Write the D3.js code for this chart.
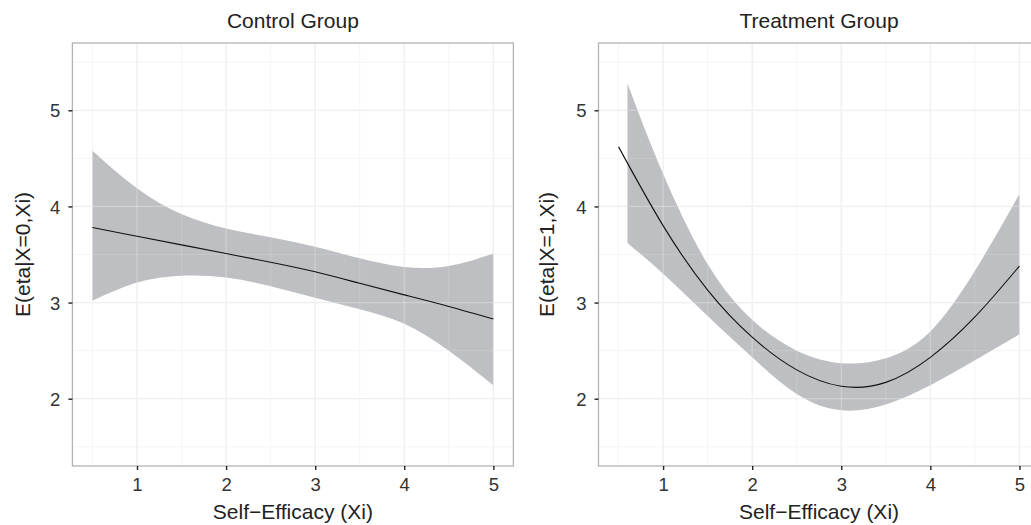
<!DOCTYPE html>
<html>
<head>
<meta charset="utf-8">
<script src="https://cdn.jsdelivr.net/npm/d3@7.9.0/dist/d3.min.js"></script>
<style>
  body { margin: 0; background: #fff; }
  svg { display: block; font-family: "Liberation Sans", Arial, sans-serif; }
</style>
</head>
<body>
<svg id="chart" width="1031" height="525"></svg>
<script>
// axis setup
const xTicks = [1, 2, 3, 4, 5];
const yTicks = [2, 3, 4, 5];
const xMinor = [0.5, 1.5, 2.5, 3.5, 4.5];
const yMinor = [1.5, 2.5, 3.5, 4.5, 5.5];

// control group (X=0)
const controlX = [0.5, 1, 1.5, 2, 2.5, 3, 3.5, 4, 4.5, 5];
const controlFit = [3.78, 3.69, 3.60, 3.51, 3.42, 3.32, 3.20, 3.08, 2.96, 2.83];
const controlLower = [3.02, 3.21, 3.28, 3.26, 3.17, 3.05, 2.93, 2.78, 2.50, 2.14];
const controlUpper = [4.58, 4.19, 3.92, 3.77, 3.68, 3.58, 3.46, 3.37, 3.38, 3.51];

// treatment group (X=1)
const treatX = [0.5, 1, 1.5, 2, 2.5, 3, 3.5, 4, 4.5, 5];
const treatFit = [4.62, 3.80, 3.13, 2.64, 2.30, 2.13, 2.17, 2.43, 2.85, 3.38];
const treatBandX = [0.6, 1, 1.5, 2, 2.5, 3, 3.5, 4, 4.5, 5];
const treatLower = [3.62, 3.30, 2.86, 2.43, 2.05, 1.88, 1.94, 2.14, 2.40, 2.67];
const treatUpper = [5.28, 4.34, 3.40, 2.82, 2.50, 2.37, 2.42, 2.70, 3.33, 4.13];

const panels = [
  { title: 'Control Group', ylab: 'E(eta|X=0,Xi)', left: 72.4, ylabX: 22,
    fitX: controlX, fit: controlFit, bandX: controlX, lower: controlLower, upper: controlUpper },
  { title: 'Treatment Group', ylab: 'E(eta|X=1,Xi)', left: 598.5, ylabX: 546,
    fitX: treatX, fit: treatFit, bandX: treatBandX, lower: treatLower, upper: treatUpper }
];

const svg = d3.select('#chart');
const plotTop = 43, plotBottom = 466, panelW = 441;
const curve = d3.curveNatural;

panels.forEach(p => {
  const x = d3.scaleLinear().domain([0.275, 5.225]).range([p.left, p.left + panelW]);
  const y = d3.scaleLinear().domain([1.3, 5.7]).range([plotBottom, plotTop]);
  const g = svg.append('g');

  /*grid*/
  function grid(layer, majorCol, minorCol, majorOp, minorOp) {
    layer.selectAll('.vmin').data(xMinor).join('line')
      .attr('x1', d => x(d)).attr('x2', d => x(d)).attr('y1', plotTop).attr('y2', plotBottom)
      .attr('stroke', minorCol).attr('stroke-opacity', minorOp).attr('stroke-width', 1);
    layer.selectAll('.hmin').data(yMinor).join('line')
      .attr('y1', d => y(d)).attr('y2', d => y(d)).attr('x1', p.left).attr('x2', p.left + panelW)
      .attr('stroke', minorCol).attr('stroke-opacity', minorOp).attr('stroke-width', 1);
    layer.selectAll('.vmaj').data(xTicks).join('line')
      .attr('x1', d => x(d)).attr('x2', d => x(d)).attr('y1', plotTop).attr('y2', plotBottom)
      .attr('stroke', majorCol).attr('stroke-opacity', majorOp).attr('stroke-width', 1.2);
    layer.selectAll('.hmaj').data(yTicks).join('line')
      .attr('y1', d => y(d)).attr('y2', d => y(d)).attr('x1', p.left).attr('x2', p.left + panelW)
      .attr('stroke', majorCol).attr('stroke-opacity', majorOp).attr('stroke-width', 1.2);
  }
  grid(g.append('g'), '#e9e9e9', '#f4f4f4', 1, 1);

  /*confidence band*/
  const band = p.bandX.map((v, i) => ({ x: v, lo: p.lower[i], hi: p.upper[i] }));
  g.append('path')
    .datum(band)
    .attr('fill', '#bebfc2')
    .attr('d', d3.area().curve(curve).x(d => x(d.x)).y0(d => y(d.lo)).y1(d => y(d.hi)));

  // grid shows faintly through the band
  grid(g.append('g'), '#ffffff', '#ffffff', 0.28, 0.15);

  /*fitted line*/
  g.append('path')
    .datum(p.fitX.map((v, i) => [v, p.fit[i]]))
    .attr('fill', 'none')
    .attr('stroke', '#111')
    .attr('stroke-width', 1.1)
    .attr('d', d3.line().curve(curve).x(d => x(d[0])).y(d => y(d[1])));

  // panel border
  g.append('rect')
    .attr('x', p.left).attr('y', plotTop).attr('width', panelW).attr('height', plotBottom - plotTop)
    .attr('fill', 'none').attr('stroke', '#b3b3b3').attr('stroke-width', 1.3);

  /*axes*/
  const xAxis = g.append('g').attr('transform', `translate(0,${plotBottom})`)
    .call(d3.axisBottom(x).tickValues(xTicks).tickSize(4).tickPadding(8).tickFormat(d3.format('d')));
  const yAxis = g.append('g').attr('transform', `translate(${p.left},0)`)
    .call(d3.axisLeft(y).tickValues(yTicks).tickSize(4).tickPadding(8).tickFormat(d3.format('d')));
  [xAxis, yAxis].forEach(a => {
    a.select('.domain').remove();
    a.selectAll('.tick line').attr('stroke', '#222').attr('stroke-width', 1.4);
    a.selectAll('.tick text').attr('fill', '#333').style('font-size', '18.5px')
      .style('font-family', '"Liberation Sans", Arial, sans-serif');
  });
  xAxis.selectAll('.tick text').attr('dy', '0.71em');
  yAxis.selectAll('.tick text').attr('dy', '0.36em');

  /*labels*/
  g.append('text')
    .attr('x', p.left + panelW / 2).attr('y', 28)
    .attr('text-anchor', 'middle').attr('fill', '#222').style('font-size', '21px')
    .text(p.title);
  g.append('text')
    .attr('x', p.left + panelW / 2).attr('y', 519)
    .attr('text-anchor', 'middle').attr('fill', '#222').style('font-size', '21px')
    .text('Self\u2212Efficacy (Xi)');
  g.append('text')
    .attr('transform', `translate(${p.ylabX},${(plotTop + plotBottom) / 2}) rotate(-90)`)
    .attr('text-anchor', 'middle').attr('dy', '0.36em').attr('fill', '#222').style('font-size', '21px')
    .text(p.ylab);
});
</script>
</body>
</html>
